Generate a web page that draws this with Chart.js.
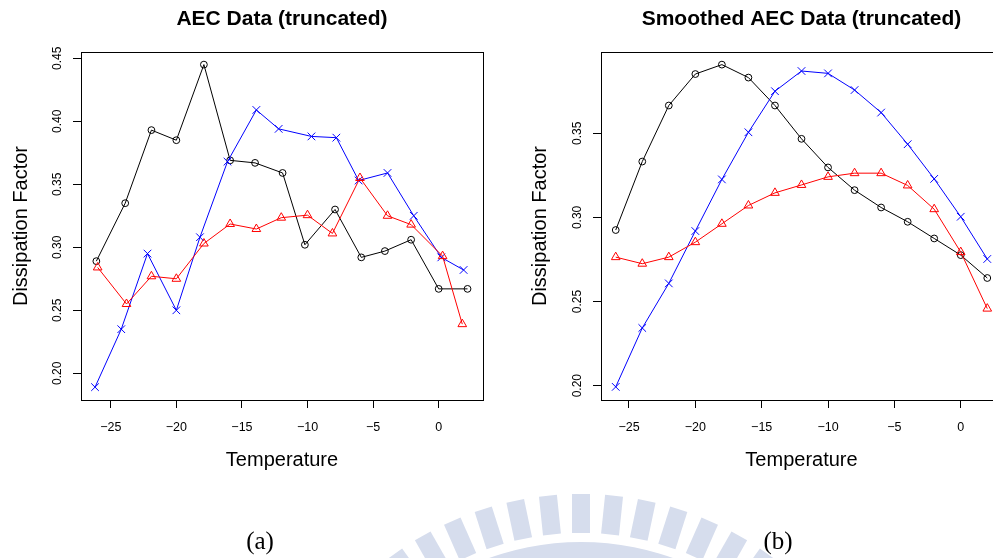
<!DOCTYPE html>
<html>
<head>
<meta charset="utf-8">
<script src="https://cdn.jsdelivr.net/npm/chart.js@4.4.1/dist/chart.umd.min.js"></script>
<style>
  html, body { margin: 0; padding: 0; background: #fff; }
  body { width: 993px; height: 558px; overflow: hidden; position: relative; }
  canvas { position: absolute; top: 0; }
  #mark { left: 0; }
  #leftChart { left: 0; }
  #rightChart { left: 500px; }
  .cap { position: absolute; top: 526px; font: 25px "Liberation Serif", "Times New Roman", serif; line-height: 29px; transform: translateX(-50%); color: #000; }
</style>
</head>
<body>
<canvas id="mark" width="993" height="558"></canvas>
<canvas id="leftChart" width="500" height="480"></canvas>
<canvas id="rightChart" width="520" height="480"></canvas>
<div class="cap" style="left:260px">(a)</div>
<div class="cap" style="left:778px">(b)</div>

<script>
// ---- measured AEC data (temperature in deg C, dissipation factor) ----
const rawTempCircle = [-26.1, -23.9, -21.9, -20.0, -17.9, -15.9, -14.0, -11.9, -10.2, -7.9, -5.9, -4.1, -2.1, 0.0, 2.2];
const rawDfCircle   = [0.289, 0.335, 0.393, 0.385, 0.445, 0.369, 0.367, 0.359, 0.302, 0.330, 0.292, 0.297, 0.306, 0.267, 0.267];

const rawTempCross  = [-26.2, -24.2, -22.2, -20.0, -18.2, -16.1, -13.9, -12.2, -9.7, -7.8, -6.1, -3.9, -1.9, 0.2, 1.9];
const rawDfCross    = [0.189, 0.235, 0.295, 0.250, 0.308, 0.368, 0.409, 0.394, 0.388, 0.387, 0.353, 0.359, 0.325, 0.292, 0.282];

const rawTempTri    = [-26.0, -23.8, -21.9, -20.0, -17.9, -15.9, -13.9, -12.0, -10.0, -8.1, -6.0, -3.9, -2.1, 0.3, 1.8];
const rawDfTri      = [0.284, 0.255, 0.277, 0.275, 0.303, 0.3185, 0.3145, 0.3235, 0.3255, 0.311, 0.355, 0.325, 0.318, 0.293, 0.239];

// ---- smoothed curves on a regular temperature grid ----
const smoothTemp      = [-26, -24, -22, -20, -18, -16, -14, -12, -10, -8, -6, -4, -2, 0, 2];
const smoothDfCircle  = [0.2925, 0.3332, 0.3665, 0.3852, 0.3908, 0.3831, 0.3665, 0.3467, 0.3297, 0.3162, 0.3059, 0.2974, 0.2875, 0.2776, 0.2640];
const smoothDfCross   = [0.1993, 0.2343, 0.2608, 0.2919, 0.3226, 0.3506, 0.3750, 0.3870, 0.3856, 0.3757, 0.3623, 0.3435, 0.3229, 0.3004, 0.2753];
const smoothDfTri     = [0.2764, 0.2725, 0.2764, 0.2853, 0.2962, 0.3071, 0.3146, 0.3193, 0.3241, 0.3263, 0.3263, 0.3190, 0.3049, 0.2794, 0.2458];

// ---- tick values ----
const tempTicks     = [-25, -20, -15, -10, -5, 0];
const rawDfTicks    = [0.20, 0.25, 0.30, 0.35, 0.40, 0.45];
const smoothDfTicks = [0.20, 0.25, 0.30, 0.35];

const FONT = '"Liberation Sans", Arial, Helvetica, sans-serif';

function toPoints(xs, ys) { return xs.map((x, i) => ({ x: x, y: ys[i] })); }
function fmtTemp(v) { return v < 0 ? '\u2212' + Math.abs(v) : String(v); }

// Box around the plot region plus rotated y tick labels (R style)
const frameAndYLabels = {
  id: 'frameAndYLabels',
  afterDraw(chart) {
    const { ctx, chartArea: a } = chart;
    const ys = chart.scales.y;
    ctx.save();
    ctx.strokeStyle = '#000';
    ctx.lineWidth = 1;
    const l = Math.round(a.left) + 0.5, t = Math.round(a.top) + 0.5;
    const r = Math.round(a.right) + 0.5, b = Math.round(a.bottom) + 0.5;
    ctx.strokeRect(l, t, r - l, b - t);
    ctx.fillStyle = '#000';
    ctx.font = '12px ' + FONT;
    ctx.textAlign = 'center';
    ctx.textBaseline = 'middle';
    ys.ticks.forEach(tk => {
      const py = ys.getPixelForValue(tk.value);
      ctx.save();
      ctx.translate(a.left - 23.7, py);
      ctx.rotate(-Math.PI / 2);
      ctx.fillText(tk.value.toFixed(2), 0, 0);
      ctx.restore();
    });
    ctx.restore();
  }
};

function series(xs, ys, kind) {
  const styles = {
    circle: { color: '#000000', pointStyle: 'circle', radius: 3.4 },
    cross:  { color: '#0000ff', pointStyle: 'crossRot', radius: 5.4 },
    tri:    { color: '#ff0000', pointStyle: 'triangle', radius: 5.0 }
  };
  const s = styles[kind];
  return {
    data: toPoints(xs, ys),
    showLine: true,
    borderColor: s.color,
    borderWidth: 1,
    backgroundColor: 'rgba(0,0,0,0)',
    pointStyle: s.pointStyle,
    pointRadius: s.radius,
    pointBorderColor: s.color,
    pointBackgroundColor: 'rgba(0,0,0,0)',
    pointBorderWidth: 1,
    tension: 0
  };
}

function makeChart(canvasId, p) {
  return new Chart(document.getElementById(canvasId), {
    type: 'scatter',
    data: { datasets: p.datasets },
    plugins: [frameAndYLabels],
    options: {
      responsive: false,
      animation: false,
      devicePixelRatio: 1,
      events: [],
      layout: { padding: { left: 0, right: p.padRight, top: 0, bottom: 0 } },
      plugins: {
        legend: { display: false },
        tooltip: { enabled: false },
        title: {
          display: true,
          text: p.title,
          fullSize: false,
          color: '#000',
          font: { family: FONT, size: 21, weight: 'bold', lineHeight: 1.2 },
          padding: { top: 6.2, bottom: 20.6 }
        }
      },
      scales: {
        x: {
          type: 'linear',
          min: p.xMin, max: p.xMax,
          afterBuildTicks: s => { s.ticks = tempTicks.map(v => ({ value: v })); },
          afterFit: s => { s.height = 80; },
          ticks: {
            color: '#000', autoSkip: false, maxRotation: 0,
            font: { family: FONT, size: 12.5 },
            padding: 12.5,
            callback: v => fmtTemp(v)
          },
          grid: { drawOnChartArea: false, drawTicks: true, tickLength: 8, color: '#000', lineWidth: 1 },
          border: { display: false },
          title: {
            display: true, text: 'Temperature', color: '#000',
            font: { family: FONT, size: 20 },
            padding: { top: 0, bottom: 7.5 }
          }
        },
        y: {
          type: 'linear',
          min: p.yMin, max: p.yMax,
          afterBuildTicks: s => { s.ticks = p.yTicks.map(v => ({ value: v })); },
          afterFit: s => { s.width = p.yAxisWidth; },
          ticks: { display: false },
          grid: { drawOnChartArea: false, drawTicks: true, tickLength: 8, color: '#000', lineWidth: 1 },
          border: { display: false },
          title: {
            display: true, text: 'Dissipation Factor', color: '#000',
            font: { family: FONT, size: 20 },
            padding: { top: p.yTitlePad, bottom: 0 }
          }
        }
      }
    }
  });
}

makeChart('leftChart', {
  title: 'AEC Data (truncated)',
  datasets: [
    series(rawTempTri, rawDfTri, 'tri'),
    series(rawTempCross, rawDfCross, 'cross'),
    series(rawTempCircle, rawDfCircle, 'circle')
  ],
  xMin: -27.27, xMax: 3.38,
  yMin: 0.1788, yMax: 0.455,
  yTicks: rawDfTicks,
  yAxisWidth: 81,
  padRight: 17,
  yTitlePad: 9
});

makeChart('rightChart', {
  title: 'Smoothed AEC Data (truncated)',
  datasets: [
    series(smoothTemp, smoothDfTri, 'tri'),
    series(smoothTemp, smoothDfCross, 'cross'),
    series(smoothTemp, smoothDfCircle, 'circle')
  ],
  xMin: -27.11, xMax: 3.11,
  yMin: 0.1915, yMax: 0.3983,
  yTicks: smoothDfTicks,
  yAxisWidth: 101,
  padRight: 18,
  yTitlePad: 28.5
});

// Faint university seal behind the captions
(function drawSeal() {
  const mk = document.getElementById('mark').getContext('2d');
  const cx = 581, cy = 814;
  mk.fillStyle = 'rgb(214,221,237)';
  for (let k = -8; k <= 8; k++) {
    mk.save();
    mk.translate(cx, cy);
    mk.rotate(k * 5.93 * Math.PI / 180);
    mk.fillRect(-9, -320, 18, 39);
    mk.restore();
  }
  mk.beginPath();
  mk.arc(cx, cy, 272, 0, 2 * Math.PI);
  mk.arc(cx, cy, 200, 0, 2 * Math.PI, true);
  mk.fill();
})();
</script>
</body>
</html>
